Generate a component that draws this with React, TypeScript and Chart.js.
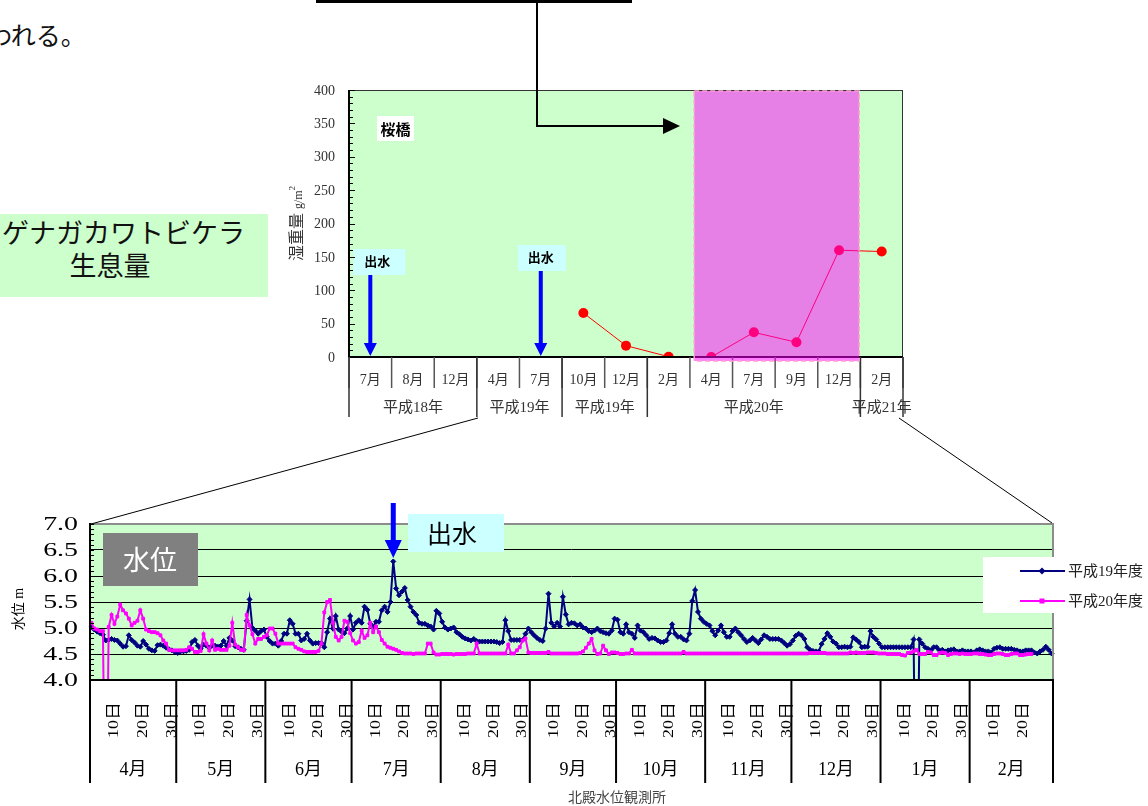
import React, { useEffect, useRef } from 'react';
import { Chart, registerables } from 'chart.js';
Chart.register(...registerables);

const SERIF = "'Liberation Serif', 'Noto Sans CJK JP', serif";
const SANS = "'Noto Sans CJK JP', 'Noto Sans', sans-serif";

// ---------- upper chart (桜橋 生息量) ----------
const bioCategories = ['7月', '8月', '12月', '4月', '7月', '10月', '12月', '2月', '4月', '7月', '9月', '12月', '2月'];
const bioWetWeight: (number | null)[] = [null, null, null, null, null, 66, 17, 0.5, 0, 37, 22, 160, 158];
const bioYearLabels = ['平成18年', '平成19年', '平成19年', '平成20年', '平成21年'];
const bioYearFirst = [0, 3, 5, 7, 12];
const bioYearLast = [2, 4, 6, 11, 12];
const bioFloodIndex = [0, 4];

// ---------- lower chart (水位) ----------
const levelMonths = ['4月', '5月', '6月', '7月', '8月', '9月', '10月', '11月', '12月', '1月', '2月'];
const levelMonthDays = [30, 31, 30, 31, 31, 30, 31, 30, 31, 31, 29];
const levelDayMarks = [10, 20, 30];
const levelDayLabels = ['10日', '20日', '30日'];
const levelFloodDay = 105;

const h19Level = [
  5.02, 4.97, 4.93, 4.90, 4.87, 4.76, 4.77, 4.79, 4.77, 4.76,
  4.70, 4.64, 4.65, 4.86, 4.77, 4.72, 4.66, 4.64, 4.75, 4.68,
  4.60, 4.57, 4.56, 4.67, 4.68, 4.66, 4.62, 4.59, 4.57, 4.54,
  4.52, 4.55, 4.55, 4.56, 4.58, 4.73, 4.77, 4.66, 4.60, 4.68,
  4.66, 4.62, 4.66, 4.66, 4.64, 4.66, 4.75, 4.66, 4.81, 4.76,
  4.65, 4.63, 4.60, 4.58, 5.14, 5.55, 5.00, 4.95, 4.89, 4.94,
  4.97, 4.83, 4.75, 4.70, 4.70, 4.66, 4.75, 4.89, 4.89, 5.15,
  5.08, 4.89, 4.89, 4.76, 4.79, 4.89, 4.76, 4.70, 4.71, 4.71,
  4.71, 4.63, 4.92, 5.18, 4.99, 5.23, 4.97, 4.93, 4.90, 4.99,
  5.23, 4.97, 5.10, 5.15, 5.10, 5.41, 5.35, 5.08, 5.02, 5.12,
  5.12, 5.34, 5.41, 5.31, 5.50, 6.28, 5.76, 5.63, 5.70, 5.77,
  5.54, 5.41, 5.31, 5.25, 5.10, 5.08, 5.08, 5.05, 5.03, 4.97,
  5.33, 5.28, 5.12, 5.01, 4.97, 4.99, 5.01, 4.92, 4.88, 4.83,
  4.80, 4.78, 4.76, 4.79, 4.75, 4.74, 4.74, 4.74, 4.74, 4.74,
  4.74, 4.73, 4.71, 4.73, 5.15, 4.94, 4.77, 4.77, 4.77, 4.77,
  4.77, 4.89, 4.99, 4.92, 4.86, 4.81, 4.77, 4.75, 4.99, 5.66,
  5.10, 5.03, 5.10, 5.03, 5.60, 5.26, 5.07, 5.10, 5.09, 5.05,
  5.07, 5.01, 4.99, 4.94, 4.92, 4.95, 4.99, 4.94, 4.92, 4.90,
  4.89, 4.95, 5.18, 5.16, 4.92, 4.89, 5.07, 4.92, 4.89, 4.81,
  5.05, 4.95, 4.92, 4.86, 4.79, 4.81, 4.80, 4.76, 4.73, 4.73,
  4.76, 4.90, 5.07, 4.89, 4.83, 4.83, 4.78, 4.76, 4.89, 5.52,
  5.73, 5.31, 5.18, 5.12, 5.08, 5.05, 4.94, 4.86, 4.95, 5.05,
  4.92, 4.83, 4.83, 4.94, 4.99, 4.92, 4.86, 4.79, 4.73, 4.76,
  4.81, 4.76, 4.71, 4.78, 4.86, 4.83, 4.79, 4.79, 4.79, 4.79,
  4.76, 4.71, 4.66, 4.69, 4.76, 4.85, 4.89, 4.86, 4.79, 4.63,
  4.58, 4.56, 4.55, 4.55, 4.69, 4.79, 4.90, 4.83, 4.74, 4.70,
  4.63, 4.63, 4.64, 4.63, 4.64, 4.82, 4.78, 4.73, 4.63, 4.64,
  4.64, 4.94, 4.83, 4.78, 4.70, 4.63, 4.63, 4.63, 4.63, 4.63,
  4.63, 4.63, 4.63, 4.63, 4.63, 4.63, 4.78, 0, 4.78, 4.70,
  4.63, 4.60, 4.57, 4.63, 4.63, 4.57, 4.58, 4.55, 4.57, 4.58,
  4.59, 4.55, 4.55, 4.57, 4.55, 4.55, 4.55, 4.53, 4.57, 4.59,
  4.57, 4.55, 4.55, 4.53, 4.60, 4.62, 4.63, 4.60, 4.60, 4.60,
  4.60, 4.58, 4.57, 4.55, 4.55, 4.57, 4.57, 4.57, 4.53, 4.51,
  4.55, 4.58, 4.64, 4.58, 4.51,
];

const h20Level = [
  5.10, 4.99, 4.97, 4.94, 4.94, 0, 5.02, 5.25, 5.08, 5.22,
  5.45, 5.34, 5.28, 5.18, 5.05, 5.10, 5.14, 5.34, 5.18, 4.97,
  4.94, 4.92, 4.92, 4.90, 4.86, 4.76, 4.70, 4.58, 4.57, 4.57,
  4.57, 4.57, 4.57, 4.58, 4.63, 4.60, 4.54, 4.54, 4.56, 4.88,
  4.70, 4.57, 4.76, 4.58, 4.60, 4.58, 4.58, 4.58, 4.66, 5.10,
  4.68, 4.63, 4.58, 4.57, 5.25, 5.05, 4.88, 4.70, 4.79, 4.79,
  4.83, 4.86, 4.99, 4.99, 4.89, 4.70, 4.70, 4.70, 4.70, 4.70,
  4.70, 4.63, 4.60, 4.58, 4.55, 4.54, 4.54, 4.54, 4.54, 4.56,
  4.70, 5.30, 5.50, 5.54, 5.10, 4.83, 4.76, 4.83, 5.14, 5.12,
  4.90, 4.76, 4.70, 4.73, 4.95, 4.81, 4.86, 5.10, 4.92, 5.03,
  4.92, 4.77, 4.70, 4.64, 4.62, 4.60, 4.58, 4.55, 4.52, 4.51,
  4.51, 4.51, 4.50, 4.51, 4.51, 4.51, 4.51, 4.70, 4.70, 4.53,
  4.49, 4.49, 4.50, 4.50, 4.50, 4.50, 4.49, 4.50, 4.50, 4.50,
  4.50, 4.51, 4.51, 4.51, 4.70, 4.51, 4.51, 4.51, 4.51, 4.51,
  4.51, 4.51, 4.51, 4.51, 4.51, 4.68, 4.51, 4.51, 4.57, 4.63,
  4.76, 4.80, 4.53, 4.52, 4.52, 4.52, 4.52, 4.52, 4.52, 4.54,
  4.51, 4.51, 4.51, 4.51, 4.51, 4.51, 4.51, 4.51, 4.51, 4.51,
  4.52, 4.55, 4.62, 4.70, 4.79, 4.57, 4.50, 4.51, 4.66, 4.57,
  4.50, 4.53, 4.53, 4.52, 4.50, 4.50, 4.51, 4.51, 4.58, 4.51,
  4.51, 4.51, 4.51, 4.51, 4.51, 4.51, 4.51, 4.51, 4.51, 4.51,
  4.51, 4.51, 4.51, 4.51, 4.51, 4.51, 4.54, 4.51, 4.51, 4.51,
  4.51, 4.51, 4.51, 4.51, 4.51, 4.51, 4.51, 4.51, 4.51, 4.51,
  4.51, 4.51, 4.51, 4.51, 4.51, 4.51, 4.51, 4.51, 4.51, 4.51,
  4.51, 4.51, 4.51, 4.51, 4.51, 4.51, 4.51, 4.51, 4.51, 4.51,
  4.51, 4.51, 4.51, 4.51, 4.51, 4.51, 4.51, 4.51, 4.51, 4.51,
  4.52, 4.52, 4.52, 4.52, 4.52, 4.52, 4.51, 4.51, 4.51, 4.51,
  4.51, 4.51, 4.51, 4.51, 4.53, 4.52, 4.53, 4.52, 4.52, 4.52,
  4.53, 4.53, 4.53, 4.52, 4.51, 4.51, 4.51, 4.50, 4.50, 4.50,
  4.50, 4.50, 4.48, 4.47, 4.52, 4.53, 4.55, 4.58, 4.50, 4.50,
  4.50, 4.54, 4.53, 4.48, 4.48, 4.52, 4.53, 4.52, 4.48, 4.50,
  4.51, 4.51, 4.50, 4.51, 4.50, 4.50, 4.50, 4.51, 4.51, 4.50,
  4.50, 4.49, 4.48, 4.48, 4.50, 4.51, 4.51, 4.50, 4.48, 4.48,
  4.50, 4.51, 4.51, 4.48, 4.48, 4.49, 4.50, 4.50,
];

function seg(ctx: CanvasRenderingContext2D, x1: number, y1: number, x2: number, y2: number) {
  ctx.beginPath();
  ctx.moveTo(x1, y1);
  ctx.lineTo(x2, y2);
  ctx.stroke();
}

const greenArea = {
  id: 'greenArea',
  beforeDraw(chart: any) {
    const { ctx, chartArea: a } = chart;
    ctx.save();
    ctx.fillStyle = '#CCFFCC';
    ctx.fillRect(a.left, a.top, a.right - a.left, a.bottom - a.top);
    ctx.restore();
  },
};

const upperDecor = {
  id: 'upperDecor',
  afterDatasetsDraw(chart: any) {
    const { ctx, scales } = chart;
    const x = scales.x;
    ctx.save();
    // 桜橋 label
    ctx.fillStyle = '#FFFFFF';
    ctx.fillRect(97, 36, 37, 25);
    ctx.fillStyle = '#000';
    ctx.font = `bold 15px ${SANS}`;
    ctx.textAlign = 'center';
    ctx.textBaseline = 'middle';
    ctx.fillText('桜橋', 115.5, 49);
    // 出水 boxes + arrows
    const boxLeft = [-17, -23];
    const boxWidth = [52, 48];
    const boxTop = [169, 165];
    const textDx = [7, 0];
    const arrowTop = [195, 191];
    bioFloodIndex.forEach((ci, k) => {
      const ax = x.getPixelForValue(ci);
      ctx.fillStyle = '#CCFFFF';
      ctx.fillRect(ax + boxLeft[k], boxTop[k], boxWidth[k], 26);
      ctx.fillStyle = '#000';
      ctx.font = `bold 13px ${SANS}`;
      ctx.fillText('出水', ax + textDx[k], boxTop[k] + 12);
      ctx.fillStyle = '#0000FF';
      ctx.fillRect(ax - 2, arrowTop[k], 4, 264 - arrowTop[k]);
      ctx.beginPath();
      ctx.moveTo(ax - 6.5, 263);
      ctx.lineTo(ax + 6.5, 263);
      ctx.lineTo(ax, 276);
      ctx.closePath();
      ctx.fill();
    });
    ctx.restore();
  },
  afterDraw(chart: any) {
    const { ctx, chartArea: a, scales } = chart;
    const x = scales.x;
    const y = scales.y;
    ctx.save();
    ctx.strokeStyle = '#333';
    ctx.lineWidth = 1;
    seg(ctx, a.left, a.top + 0.5, a.right, a.top + 0.5);
    seg(ctx, a.right - 0.5, a.top, a.right - 0.5, a.bottom);
    ctx.strokeStyle = '#000';
    for (let v = 0; v <= 400; v += 10) {
      const py = Math.round(y.getPixelForValue(v)) + 0.5;
      seg(ctx, a.left, py, a.left + (v % 50 === 0 ? 6 : 4), py);
    }
    ctx.lineWidth = 2;
    seg(ctx, a.left, a.top, a.left, a.bottom + 1);
    seg(ctx, a.left - 1, a.bottom, a.right, a.bottom);
    // y tick labels
    ctx.fillStyle = '#333';
    ctx.textAlign = 'right';
    ctx.textBaseline = 'middle';
    ctx.font = `14px ${SERIF}`;
    y.ticks.forEach((t: any) => {
      ctx.fillText(String(t.value), a.left - 14, y.getPixelForValue(t.value) + 1);
    });
    // month separators
    ctx.strokeStyle = '#555';
    ctx.lineWidth = 1.5;
    for (let i = 0; i <= bioCategories.length; i++) {
      const bx = x.getPixelForValue(i - 0.5);
      seg(ctx, bx, a.bottom, bx, a.bottom + 31);
    }
    ctx.strokeStyle = '#333';
    bioYearFirst.forEach((f) => {
      const bx = x.getPixelForValue(f - 0.5);
      seg(ctx, bx, a.bottom, bx, a.bottom + 60);
    });
    const lastX = x.getPixelForValue(bioYearLast[bioYearLast.length - 1] + 0.5);
    seg(ctx, lastX, a.bottom, lastX, a.bottom + 60);
    // labels
    ctx.fillStyle = '#333';
    ctx.textAlign = 'center';
    ctx.font = `14px ${SERIF}`;
    bioCategories.forEach((c, i) => ctx.fillText(c, x.getPixelForValue(i), a.bottom + 23));
    ctx.font = `15px ${SERIF}`;
    bioYearLabels.forEach((t, k) => {
      const cx = (x.getPixelForValue(bioYearFirst[k]) + x.getPixelForValue(bioYearLast[k])) / 2;
      ctx.fillText(t, cx, a.bottom + 51);
    });
    // y title: 湿重量 g/m2
    ctx.save();
    ctx.translate(18, (a.top + a.bottom) / 2);
    ctx.rotate(-Math.PI / 2);
    ctx.textAlign = 'left';
    ctx.fillStyle = '#333';
    ctx.font = `16px ${SERIF}`;
    const p1 = '湿重量 ';
    const p2 = 'g/m';
    ctx.font = `16px ${SERIF}`;
    const w1 = ctx.measureText(p1).width;
    ctx.font = `12px ${SERIF}`;
    const w2 = ctx.measureText(p2).width;
    ctx.font = `9px ${SERIF}`;
    const w3 = ctx.measureText('2').width;
    let sx = -(w1 + w2 + w3) / 2;
    ctx.font = `16px ${SERIF}`;
    ctx.fillText(p1, sx, 0);
    sx += w1;
    ctx.font = `12px ${SERIF}`;
    ctx.fillText(p2, sx, 1);
    sx += w2;
    ctx.font = `9px ${SERIF}`;
    ctx.fillText('2', sx, -5);
    ctx.restore();
    // highlighted period
    const ox1 = x.getPixelForValue(7.6);
    const ox2 = x.getPixelForValue(11.47);
    const oy1 = y.getPixelForValue(398.5);
    const oy2 = y.getPixelForValue(-6);
    ctx.fillStyle = 'rgba(255,0,255,0.5)';
    ctx.fillRect(ox1, oy1, ox2 - ox1, oy2 - oy1);
    ctx.setLineDash([5, 3]);
    ctx.strokeStyle = '#FF9FD0';
    ctx.lineWidth = 1.5;
    ctx.strokeRect(ox1, oy1, ox2 - ox1, oy2 - oy1);
    ctx.restore();
  },
};

const lowerDecor = {
  id: 'lowerDecor',
  afterDraw(chart: any) {
    const { ctx, chartArea: a, scales } = chart;
    const x = scales.x;
    const y = scales.y;
    ctx.save();
    // borders
    ctx.strokeStyle = '#8c8c8c';
    ctx.lineWidth = 2;
    seg(ctx, a.right, a.top - 1, a.right, a.bottom);
    ctx.strokeStyle = '#000';
    seg(ctx, a.left, a.top - 1, a.left, a.bottom + 1);
    seg(ctx, a.left - 1, a.bottom, a.right + 1, a.bottom);
    // minor ticks
    ctx.lineWidth = 1;
    for (let k = 0; k <= 30; k++) {
      const py = Math.round(y.getPixelForValue(4 + k * 0.1)) + 0.5;
      seg(ctx, a.left, py, a.left + 4, py);
    }
    // y labels
    ctx.fillStyle = '#000';
    ctx.textAlign = 'right';
    ctx.textBaseline = 'middle';
    ctx.font = `18px ${SERIF}`;
    y.ticks.forEach((t: any) => {
      ctx.save();
      ctx.translate(78, y.getPixelForValue(t.value));
      ctx.scale(1.55, 1);
      ctx.fillText(t.value.toFixed(1), 0, 1);
      ctx.restore();
    });
    // y title
    ctx.save();
    ctx.translate(19, 119);
    ctx.rotate(-Math.PI / 2);
    ctx.textAlign = 'center';
    ctx.font = `14px ${SERIF}`;
    ctx.fillText('水位 m', 0, 0);
    ctx.restore();
    // month separators & labels
    let start = 0;
    ctx.textAlign = 'center';
    levelMonths.forEach((m, i) => {
      const len = levelMonthDays[i];
      const b0 = x.getPixelForValue(start - 0.5);
      const b1 = x.getPixelForValue(start + len - 0.5);
      ctx.strokeStyle = '#000';
      ctx.lineWidth = 2;
      seg(ctx, b0, a.bottom, b0, a.bottom + 103);
      if (i === levelMonths.length - 1) seg(ctx, b1, a.bottom, b1, a.bottom + 103);
      ctx.font = `18px ${SERIF}`;
      ctx.fillText(m, (b0 + b1) / 2, a.bottom + 90);
      levelDayMarks.forEach((d, j) => {
        if (d > len) return;
        const px = x.getPixelForValue(start + d - 2.4);
        ctx.save();
        ctx.translate(px, a.bottom + 40);
        ctx.rotate(-Math.PI / 2);
        ctx.scale(1.0, 0.85);
        ctx.font = `18px ${SERIF}`;
        ctx.fillText(levelDayLabels[j], 0, 1);
        ctx.restore();
      });
      start += len;
    });
    // source
    ctx.fillStyle = '#444';
    ctx.font = `14px ${SANS}`;
    ctx.fillText('北殿水位観測所', 617, 307);
    // 水位 box
    ctx.fillStyle = '#808080';
    ctx.fillRect(103, 43, 95, 53);
    ctx.fillStyle = '#FFFFFF';
    ctx.font = `27px ${SANS}`;
    ctx.fillText('水位', 150, 70);
    // 出水 box + arrow
    ctx.fillStyle = '#CCFFFF';
    ctx.fillRect(408, 24, 96, 38);
    ctx.fillStyle = '#000';
    ctx.font = `25px ${SANS}`;
    ctx.fillText('出水', 452, 43);
    const ax = x.getPixelForValue(levelFloodDay);
    ctx.fillStyle = '#0000FF';
    ctx.fillRect(ax - 2.5, 13, 5, 38);
    ctx.beginPath();
    ctx.moveTo(ax - 8.5, 50);
    ctx.lineTo(ax + 8.5, 50);
    ctx.lineTo(ax, 68);
    ctx.closePath();
    ctx.fill();
    // legend
    ctx.fillStyle = '#FFFFFF';
    ctx.fillRect(983, 67, 170, 56);
    const ds = chart.data.datasets;
    const rows = [81, 111];
    ds.forEach((d: any, i: number) => {
      const ly = rows[i];
      ctx.strokeStyle = d.borderColor;
      ctx.lineWidth = 2;
      seg(ctx, 1020, ly, 1065, ly);
      ctx.fillStyle = d.borderColor;
      ctx.save();
      ctx.translate(1042, ly);
      if (d.pointStyle === 'rectRot') ctx.rotate(Math.PI / 4);
      ctx.fillRect(-2.5, -2.5, 5, 5);
      ctx.restore();
      ctx.fillStyle = '#222';
      ctx.textAlign = 'left';
      ctx.font = `15px ${SERIF}`;
      ctx.fillText(d.label, 1068, ly + 1);
    });
    ctx.restore();
  },
};

export default function App() {
  const upperRef = useRef<HTMLCanvasElement>(null);
  const lowerRef = useRef<HTMLCanvasElement>(null);

  useEffect(() => {
    const upper = new Chart(upperRef.current as HTMLCanvasElement, {
      type: 'line',
      data: {
        labels: bioCategories,
        datasets: [
          {
            label: '桜橋',
            data: bioWetWeight,
            borderColor: '#FF0000',
            backgroundColor: '#FF0000',
            borderWidth: 1,
            pointRadius: 5,
            pointHoverRadius: 5,
            pointBorderWidth: 0,
            spanGaps: false,
          },
        ],
      },
      options: {
        animation: false,
        responsive: false,
        devicePixelRatio: 1,
        events: [],
        layout: { padding: { top: 10, right: 17, bottom: 73, left: 0 } },
        plugins: { legend: { display: false }, tooltip: { enabled: false } },
        scales: {
          x: { type: 'category', display: false, offset: true },
          y: {
            min: 0,
            max: 400,
            afterFit: (s: any) => {
              s.width = 69;
            },
            ticks: { stepSize: 50, display: false },
            grid: { display: false, drawTicks: false },
            border: { display: false },
          },
        },
      } as any,
      plugins: [greenArea, upperDecor],
    });

    const lower = new Chart(lowerRef.current as HTMLCanvasElement, {
      type: 'line',
      data: {
        datasets: [
          {
            label: '平成19年度',
            data: h19Level.map((v, i) => ({ x: i, y: v })),
            borderColor: '#000080',
            backgroundColor: '#000080',
            borderWidth: 2,
            pointStyle: 'rectRot',
            pointRadius: 2.5,
            pointBorderWidth: 1,
            order: 2,
            clip: { left: 5, right: 5, top: 5, bottom: 0 },
          },
          {
            label: '平成20年度',
            data: h20Level.map((v, i) => ({ x: i, y: v })),
            borderColor: '#FF00FF',
            backgroundColor: '#FF00FF',
            borderWidth: 2,
            pointStyle: 'rect',
            pointRadius: 2,
            pointBorderWidth: 1,
            order: 1,
            clip: { left: 5, right: 5, top: 5, bottom: 0 },
          },
        ],
      },
      options: {
        animation: false,
        responsive: false,
        devicePixelRatio: 1,
        events: [],
        layout: { padding: { top: 34, right: 95, bottom: 126, left: 0 } },
        plugins: { legend: { display: false }, tooltip: { enabled: false } },
        scales: {
          x: { type: 'linear', min: -0.5, max: 334.5, display: false },
          y: {
            min: 4,
            max: 7,
            afterFit: (s: any) => {
              s.width = 90;
            },
            ticks: { stepSize: 0.5, display: false },
            grid: {
              drawTicks: false,
              color: (c: any) => (c.tick && c.tick.value === 7 ? '#8c8c8c' : '#000'),
              lineWidth: (c: any) => (c.tick && c.tick.value === 7 ? 2 : 1),
            },
            border: { display: false },
          },
        },
      } as any,
      plugins: [greenArea, lowerDecor],
    });

    return () => {
      upper.destroy();
      lower.destroy();
    };
  }, []);

  return (
    <div
      style={{
        position: 'fixed',
        left: 0,
        top: 0,
        width: 1148,
        height: 806,
        overflow: 'hidden',
        background: '#FFFFFF',
      }}
    >
      <div
        style={{
          position: 'absolute',
          left: -13,
          top: 20,
          fontSize: 25,
          lineHeight: '28px',
          fontFamily: SANS,
          whiteSpace: 'nowrap',
          color: '#111',
        }}
      >
        われる。
      </div>
      <div style={{ position: 'absolute', left: 0, top: 214, width: 268, height: 83, background: '#CCFFCC' }}>
        <div
          style={{
            position: 'absolute',
            left: -40,
            width: 300,
            top: 1,
            textAlign: 'center',
            fontSize: 27,
            lineHeight: '33px',
            fontFamily: SANS,
            color: '#111',
            whiteSpace: 'nowrap',
          }}
        >
          ヒゲナガカワトビケラ
          <br />
          生息量
        </div>
      </div>
      <canvas
        ref={upperRef}
        width={640}
        height={350}
        style={{ position: 'absolute', left: 280, top: 80, width: 640, height: 350 }}
      />
      <canvas
        ref={lowerRef}
        width={1148}
        height={316}
        style={{ position: 'absolute', left: 0, top: 490, width: 1148, height: 316 }}
      />
      <svg
        width={1148}
        height={806}
        style={{ position: 'absolute', left: 0, top: 0, pointerEvents: 'none' }}
      >
        <rect x={316} y={0} width={316} height={3} fill="#000" />
        <polyline points="537,3 537,126 665,126" fill="none" stroke="#000" strokeWidth={2} />
        <polygon points="663,118 680,126 663,134" fill="#000" />
        <line x1={478} y1={418} x2={91} y2={524} stroke="#000" strokeWidth={1} />
        <line x1={899} y1={418} x2={1052} y2={523} stroke="#000" strokeWidth={1} />
      </svg>
    </div>
  );
}
